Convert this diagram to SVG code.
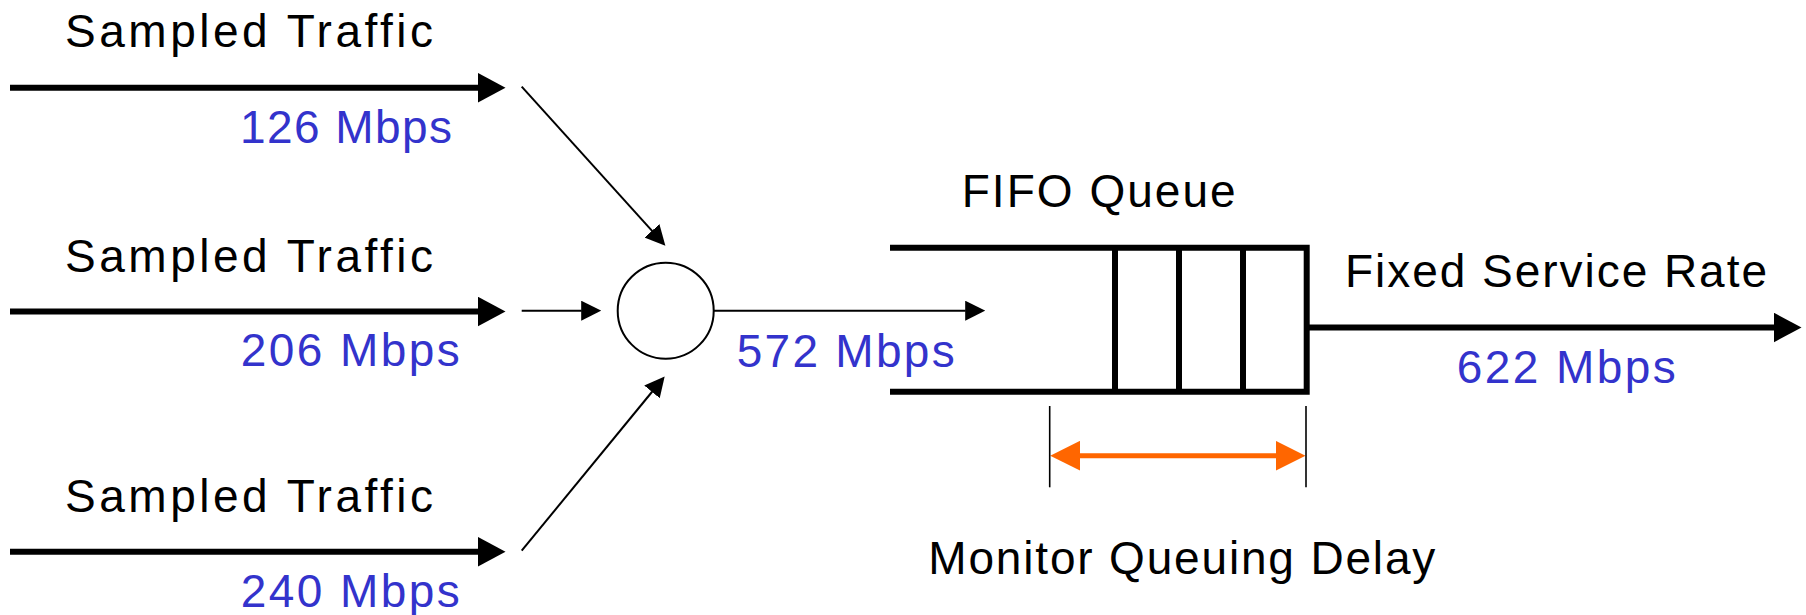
<svg xmlns="http://www.w3.org/2000/svg" width="1806" height="615" viewBox="0 0 1806 615">
<style>
text{font-family:"Liberation Sans",Arial,sans-serif;font-size:46px;fill:#000}
.rate{fill:#3333CC}
.thick{stroke:#000;stroke-width:6;fill:none}
.thin{stroke:#000;stroke-width:2;fill:none}
.tick{stroke:#000;stroke-width:1.6;fill:none}
.orange{stroke:#FF6600;stroke-width:5;fill:none}
</style>
<defs>
<marker id="headThick" markerUnits="userSpaceOnUse" viewBox="0 -15 28 30" markerWidth="28" markerHeight="30" refX="0.5" refY="0" orient="auto"><path d="M0,-15 L28,0 L0,15 z" fill="#000"/></marker>
<marker id="headThin" markerUnits="userSpaceOnUse" viewBox="0 -10 20 20" markerWidth="20" markerHeight="20" refX="0.5" refY="0" orient="auto"><path d="M0,-10 L20,0 L0,10 z" fill="#000"/></marker>
<marker id="headOrange" markerUnits="userSpaceOnUse" viewBox="0 -15 30 30" markerWidth="30" markerHeight="30" refX="0.5" refY="0" orient="auto-start-reverse"><path d="M0,-15 L30,0 L0,15 z" fill="#FF6600"/></marker>
</defs>

<g id="connectors">
<line class="thick" x1="10" y1="87.7" x2="478" y2="87.7" marker-end="url(#headThick)"/>
<line class="thick" x1="10" y1="311.5" x2="478" y2="311.5" marker-end="url(#headThick)"/>
<line class="thick" x1="10" y1="551.7" x2="478" y2="551.7" marker-end="url(#headThick)"/>
<line class="thin" x1="521.7" y1="86.7" x2="652.3" y2="231.2" marker-end="url(#headThin)"/>
<line class="thin" x1="521.7" y1="310.7" x2="581.7" y2="310.7" marker-end="url(#headThin)"/>
<line class="thin" x1="521.7" y1="550.7" x2="652.3" y2="391.5" marker-end="url(#headThin)"/>
<line class="thin" x1="713.7" y1="310.7" x2="965.7" y2="310.7" marker-end="url(#headThin)"/>
<line class="thick" x1="1306.7" y1="327.5" x2="1774" y2="327.5" marker-end="url(#headThick)"/>
<line class="orange" x1="1079.7" y1="455.7" x2="1276" y2="455.7" marker-start="url(#headOrange)" marker-end="url(#headOrange)"/>
<line class="tick" x1="1049.7" y1="406" x2="1049.7" y2="487.3"/>
<line class="tick" x1="1306" y1="406" x2="1306" y2="487.3"/>
</g>

<g id="source1">
<text x="65" y="46.7" textLength="368">Sampled Traffic</text>
<text class="rate" x="240" y="142.7" textLength="212">126 Mbps</text>
</g>
<g id="source2">
<text x="65" y="271.7" textLength="368">Sampled Traffic</text>
<text class="rate" x="240.7" y="366.3" textLength="219">206 Mbps</text>
</g>
<g id="source3">
<text x="65" y="511.7" textLength="368">Sampled Traffic</text>
<text class="rate" x="240.7" y="606.7" textLength="219">240 Mbps</text>
</g>

<g id="mux">
<circle cx="665.7" cy="310.7" r="48" fill="#fff" stroke="#000" stroke-width="2"/>
<text class="rate" x="736.7" y="366.7" textLength="218">572 Mbps</text>
</g>

<g id="queue">
<text x="961.7" y="206.7" textLength="274">FIFO Queue</text>
<path class="thick" d="M890,247.7 H1309.7 M1306.7,244.7 V394.7 M890,391.7 H1306.7"/>
<line class="thick" x1="1115" y1="247.7" x2="1115" y2="391.7" stroke-width="5"/>
<line class="thick" x1="1179" y1="247.7" x2="1179" y2="391.7" stroke-width="5"/>
<line class="thick" x1="1243" y1="247.7" x2="1243" y2="391.7" stroke-width="5"/>
</g>

<g id="service">
<text x="1345" y="286.7" textLength="422">Fixed Service Rate</text>
<text class="rate" x="1456.7" y="382.7" textLength="219">622 Mbps</text>
</g>

<g id="delay">
<text x="928.3" y="574.3" textLength="507">Monitor Queuing Delay</text>
</g>
</svg>
